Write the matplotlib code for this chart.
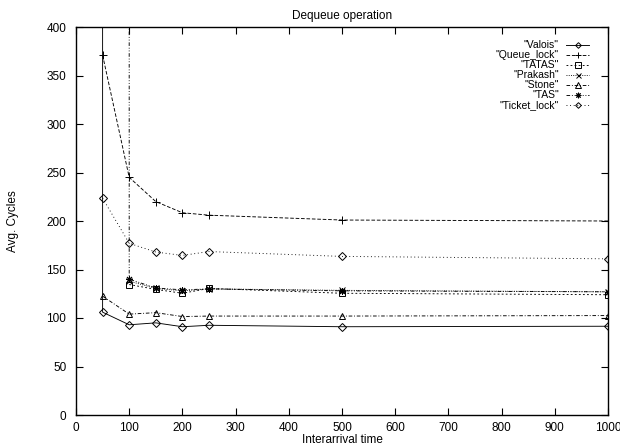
#!/usr/bin/env python3
import matplotlib
matplotlib.use('Agg')
import matplotlib.pyplot as plt

# +
# data
# -
OFF_SCALE = 1.0e6   # saturated readings, far above the plotted range

X_STD = [50, 100, 150, 200, 250, 500, 1000]

VALOIS_X = [25] + X_STD
VALOIS_Y = [OFF_SCALE, 106, 93, 95, 91, 92.5, 91, 91.5]
QUEUE_X = X_STD
QUEUE_Y = [371, 245, 220, 208.5, 206, 201, 200]
TATAS_X = X_STD[1:]
TATAS_Y = [134.5, 129.5, 125.5, 130.5, 125.5, 124]
PRAKASH_X = X_STD[1:]
PRAKASH_Y = [138, 130.5, 128, 130, 128.5, 127]
STONE_X = X_STD
STONE_Y = [122.5, 104, 105.5, 101.5, 102, 102, 102.5]
TAS_X = X_STD
TAS_Y = [OFF_SCALE, 140, 131, 129, 130, 128, 127]
TICKET_X = X_STD
TICKET_Y = [223.5, 177, 168, 164.5, 168.5, 163.5, 161]

LABELS = ['"Valois"', '"Queue_lock"', '"TATAS"', '"Prakash"', '"Stone"', '"TAS"', '"Ticket_lock"']
X_TICKS = list(range(0, 1001, 100))
Y_TICKS = list(range(0, 401, 50))

# +
# style
# -
plt.rcParams['font.family'] = ['Liberation Sans', 'DejaVu Sans']
plt.rcParams['font.size'] = 8.5

fig = plt.figure(figsize=(6.2, 4.45), dpi=100)
ax = fig.add_axes([76/620, 30/445, 532/620, 388/445])

series = [
    (VALOIS_X, VALOIS_Y, '-', 'D', 3.6),
    (QUEUE_X, QUEUE_Y, (0, (4, 2)), '+', 6),
    (TATAS_X, TATAS_Y, (0, (2, 2.5)), 's', 4.6),
    (PRAKASH_X, PRAKASH_Y, (0, (1, 1.5)), 'x', 4.5),
    (STONE_X, STONE_Y, (0, (4, 2, 1, 2)), '^', 4.6),
    (TAS_X, TAS_Y, (0, (4, 2, 1, 2, 1, 2)), (8, 2, 0), 5),
    (TICKET_X, TICKET_Y, (0, (1, 3)), 'D', 3.6),
]

for (_x, _y, _ls, _mk, _ms), _lab in zip(series, LABELS):
    ax.plot(_x, _y, color='black', lw=0.65, ls=_ls, marker=_mk, ms=_ms,
            mfc='none', mec='black', mew=0.7, label=_lab)

ax.set_xlim(0, 1000)
ax.set_ylim(0, 400)
ax.set_xticks(X_TICKS)
ax.set_yticks(Y_TICKS)
ax.tick_params(direction='in', length=5, width=0.8, top=True, right=True)
ax.tick_params(axis='y', pad=7)
ax.tick_params(axis='x', pad=5)
for _s in ax.spines.values():
    _s.set_linewidth(1.0)

ax.set_title('Dequeue operation', fontsize=8.5, pad=6)
ax.set_xlabel('Interarrival time', labelpad=0)
ax.set_ylabel('Avg. Cycles', labelpad=20)

ax.legend(loc='upper right', bbox_to_anchor=(0.978, 0.985), frameon=False,
          markerfirst=False, handlelength=2.2, handletextpad=0.7,
          handleheight=0.5, markerscale=0.8,
          labelspacing=0.0, borderpad=0.2, fontsize=7.5)

fig.savefig('out.png', dpi=100)
